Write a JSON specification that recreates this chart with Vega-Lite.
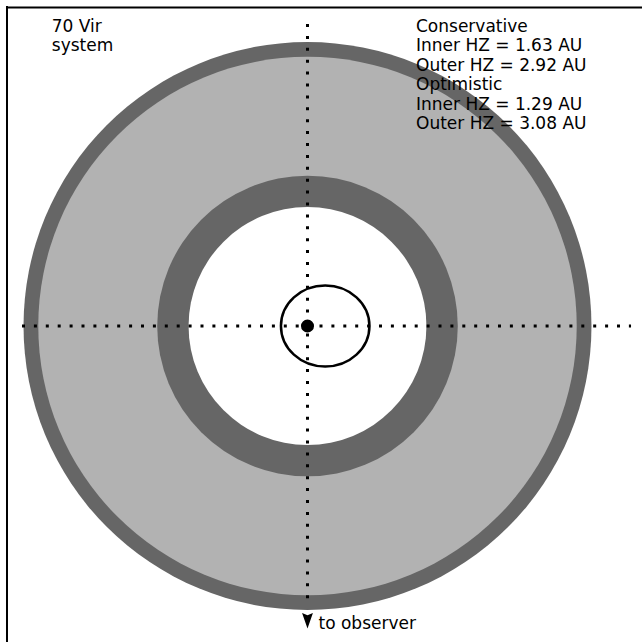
{
  "$schema": "https://vega.github.io/schema/vega-lite/v6.json",
  "width": 642,
  "height": 642,
  "padding": 0,
  "autosize": {"type": "none"},
  "background": "white",
  "config": {"view": {"stroke": null}},
  "encoding": {
    "x": {"field": "x", "type": "quantitative", "scale": {"domain": [-3.3351, 3.628], "nice": false, "zero": false}, "axis": null},
    "y": {"field": "y", "type": "quantitative", "scale": {"domain": [-3.4273, 3.5358], "nice": false, "zero": false}, "axis": null}
  },
  "layer": [
    {
      "data": {"values": [
        {"x": 0, "y": 0, "r": 3.08, "zone": "optimistic"},
        {"x": 0, "y": 0, "r": 2.92, "zone": "conservative"},
        {"x": 0, "y": 0, "r": 1.63, "zone": "optimistic"},
        {"x": 0, "y": 0, "r": 1.29, "zone": "none"}
      ]},
      "mark": {"type": "arc", "theta": 0, "theta2": 6.2832},
      "encoding": {
        "radius": {"field": "r", "type": "quantitative", "stack": null, "scale": {"type": "linear", "domain": [0, 1], "range": [0, 92.2], "zero": true}},
        "color": {"field": "zone", "type": "nominal", "scale": {"domain": ["optimistic", "conservative", "none"], "range": ["#666666", "#b2b2b2", "#ffffff"]}, "legend": null}
      }
    },
    {
      "data": {"values": [
        {"x": -3.2592, "x2": -3.2592, "y": 3.4707, "y2": -3.4273},
        {"x": -3.2700, "x2": 3.628, "y": 3.4544, "y2": 3.4544}
      ]},
      "mark": {"type": "rule", "color": "black", "strokeWidth": 2},
      "encoding": {"x2": {"field": "x2"}, "y2": {"field": "y2"}}
    },
    {
      "data": {"values": [
        {"x": -3.0965, "x2": 3.509, "y": 0, "y2": 0},
        {"x": 0, "x2": 0, "y": 3.2755, "y2": -3.04}
      ]},
      "mark": {"type": "rule", "color": "black", "strokeWidth": 3, "strokeDash": [3, 8.9]},
      "encoding": {"x2": {"field": "x2"}, "y2": {"field": "y2"}}
    },
    {
      "data": {"values": [{"x": 0.192, "y": 0, "a": 0.48, "e": 0.4}]},
      "mark": {"type": "point", "shape": "M -1 0 A 1 0.9165 0 1 0 1 0 A 1 0.9165 0 1 0 -1 0 Z", "filled": false, "color": "black", "strokeWidth": 2.5, "opacity": 1},
      "encoding": {
        "size": {"field": "a", "type": "quantitative", "scale": {"type": "pow", "exponent": 2, "domain": [0, 1], "range": [0, 34003]}, "legend": null}
      }
    },
    {
      "data": {"values": [{"x": 0, "y": 0}]},
      "mark": {"type": "point", "shape": "circle", "filled": true, "color": "black", "size": 170, "opacity": 1}
    },
    {
      "data": {"values": [{"x": 0, "y": -3.197}]},
      "mark": {"type": "point", "shape": "M 0 1 L -0.7 -1 L 0 -0.72 L 0.7 -1 Z", "filled": true, "color": "black", "size": 240, "opacity": 1}
    },
    {
      "data": {"values": [
        {"x": -2.7733, "y": 3.1855, "label": ["70 Vir", "system"]}
      ]},
      "mark": {"type": "text", "font": "DejaVu Sans", "fontSize": 17, "align": "left", "baseline": "alphabetic", "lineHeight": 18.4, "color": "black"},
      "encoding": {"text": {"field": "label"}}
    },
    {
      "data": {"values": [
        {"x": 1.1768, "y": 3.1941, "label": ["Conservative", "Inner HZ = 1.63 AU", "Outer HZ = 2.92 AU", "Optimistic", "Inner HZ = 1.29 AU", "Outer HZ = 3.08 AU"]}
      ]},
      "mark": {"type": "text", "font": "DejaVu Sans", "fontSize": 17, "align": "left", "baseline": "alphabetic", "lineHeight": 19.5, "color": "black"},
      "encoding": {"text": {"field": "label"}}
    },
    {
      "data": {"values": [
        {"x": 0.1193, "y": -3.2863, "label": "to observer"}
      ]},
      "mark": {"type": "text", "font": "DejaVu Sans", "fontSize": 17, "align": "left", "baseline": "alphabetic", "color": "black"},
      "encoding": {"text": {"field": "label"}}
    }
  ]
}
